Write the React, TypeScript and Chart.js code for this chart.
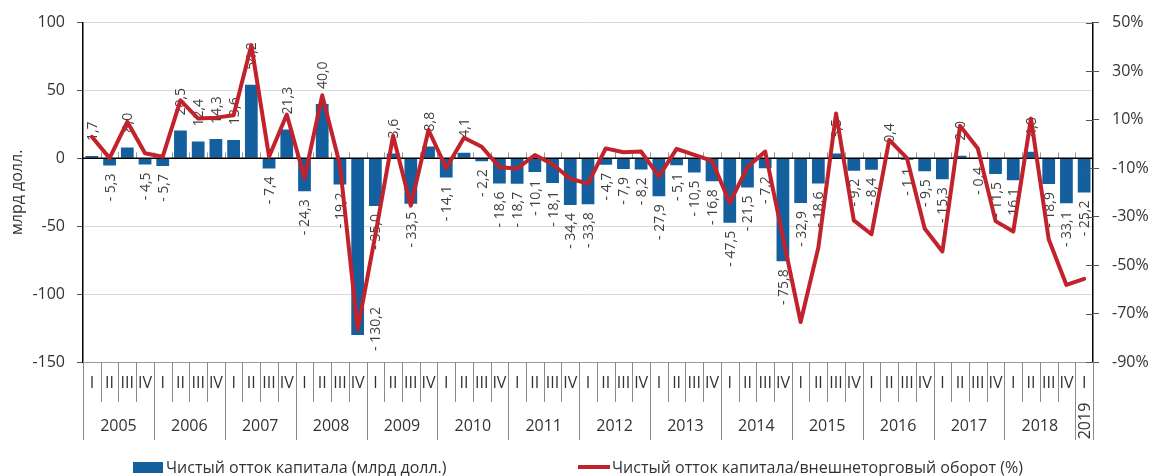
import React, { useEffect, useRef } from "react";
import { Chart, registerables } from "chart.js";

Chart.register(...registerables);

const FONT = "'Open Sans', 'Noto Sans', sans-serif";
const TEXT = "#333333";
const BAR_COLOR = "#14609F";
const LINE_COLOR = "#C1222B";

const quarterNames = ["I", "II", "III", "IV"];
const years = [
  "2005", "2006", "2007", "2008", "2009", "2010", "2011",
  "2012", "2013", "2014", "2015", "2016", "2017", "2018", "2019",
];

// Net capital outflow, bn USD (quarterly, 2005 Q1 – 2019 Q1)
const capitalOutflow = [
  1.7, -5.3, 8.0, -4.5,
  -5.7, 20.5, 12.4, 14.3,
  13.6, 54.2, -7.4, 21.3,
  -24.3, 40.0, -19.2, -130.2,
  -35.0, 3.6, -33.5, 8.8,
  -14.1, 4.1, -2.2, -18.6,
  -18.7, -10.1, -18.1, -34.4,
  -33.8, -4.7, -7.9, -8.2,
  -27.9, -5.1, -10.5, -16.8,
  -47.5, -21.5, -7.2, -75.8,
  -32.9, -18.6, 3.5, -9.2,
  -8.4, 0.4, -1.1, -9.5,
  -15.3, 2.0, -0.4, -11.5,
  -16.1, 4.8, -18.9, -33.1,
  -25.2,
];

// Net capital outflow / foreign trade turnover, %
const outflowToTrade = [
  2.9, -5.9, 9.1, -3.9,
  -5.3, 17.9, 10.4, 10.8,
  11.8, 40.7, -5.3, 12.1,
  -14.1, 20.0, -8.7, -76.5,
  -37.6, 3.3, -25.5, 5.7,
  -10.0, 2.5, -1.2, -9.6,
  -10.3, -4.6, -8.4, -14.4,
  -16.4, -1.9, -3.5, -3.2,
  -13.4, -2.1, -4.6, -7.0,
  -24.4, -9.6, -3.2, -38.5,
  -73.5, -42.8, 12.5, -31.6,
  -37.3, 1.6, -5.9, -34.9,
  -44.4, 7.4, -1.9, -31.9,
  -36.2, 10.4, -39.4, -58.2,
  -55.7,
];

const categories: string[] = capitalOutflow.map((_, i) => quarterNames[i % 4]);

const barLabel = "Чистый отток капитала (млрд долл.)";
const lineLabel = "Чистый отток капитала/внешнеторговый оборот (%)";
const leftTitle = "млрд долл.";

function fmt(v: number): string {
  const s = Math.abs(v).toFixed(1).replace(".", ",");
  return v < 0 ? "- " + s : s;
}

const overlayPlugin = {
  id: "overlay",
  beforeDatasetDraw(chart: any, args: any) {
    if (args.index !== 1) return;
    const ctx = chart.ctx;
    const a = chart.chartArea;
    const n = categories.length;
    const w = (a.right - a.left) / n;
    const y0 = chart.scales.y.getPixelForValue(0);
    ctx.save();
    // small ticks above zero line
    ctx.strokeStyle = "#9a9a9a";
    ctx.lineWidth = 1;
    for (let i = 1; i < n; i++) {
      const x = Math.round(a.left + i * w) + 0.5;
      ctx.beginPath();
      ctx.moveTo(x, y0 - 6);
      ctx.lineTo(x, y0);
      ctx.stroke();
    }
    // zero line
    ctx.strokeStyle = "#000";
    ctx.lineWidth = 1.5;
    ctx.beginPath();
    ctx.moveTo(a.left, y0);
    ctx.lineTo(a.right, y0);
    ctx.stroke();
    // bar value labels
    const meta = chart.getDatasetMeta(0);
    ctx.font = "14px " + FONT;
    ctx.fillStyle = "#404040";
    ctx.textBaseline = "middle";
    meta.data.forEach((bar: any, i: number) => {
      const v = capitalOutflow[i];
      let lx = bar.x + 1;
      let ly = v >= 0 ? bar.y - 15 : bar.y + 8;
      // the deepest bar's label does not fit below it: move it beside the bar
      if (ly + 50 > a.bottom && v < 0) {
        lx = bar.x + w + 1;
        ly = bar.y - 28;
      }
      ctx.save();
      ctx.translate(lx, ly);
      ctx.rotate(-Math.PI / 2);
      ctx.textAlign = v >= 0 ? "left" : "right";
      ctx.fillText(fmt(v), 0, 0);
      ctx.restore();
    });
    ctx.restore();
  },
  afterDraw(chart: any) {
    const ctx = chart.ctx;
    const a = chart.chartArea;
    const n = categories.length;
    const w = (a.right - a.left) / n;
    ctx.save();
    ctx.strokeStyle = "#8a8a8a";
    ctx.lineWidth = 1;
    for (let i = 0; i <= n; i++) {
      const x = Math.round(a.left + i * w) + 0.5;
      const isYear = i % 4 === 0 || i === n;
      ctx.beginPath();
      ctx.moveTo(x, a.bottom);
      ctx.lineTo(x, a.bottom + (isYear ? 78 : 40));
      ctx.stroke();
    }
    // right axis inner ticks
    const r = chart.scales.y1;
    ctx.strokeStyle = "#555";
    r.ticks.forEach((t: any) => {
      const y = Math.round(r.getPixelForValue(t.value)) + 0.5;
      ctx.beginPath();
      ctx.moveTo(a.right - 7, y);
      ctx.lineTo(a.right, y);
      ctx.stroke();
    });
    // year labels
    ctx.font = "16px " + FONT;
    ctx.fillStyle = TEXT;
    ctx.textAlign = "center";
    ctx.textBaseline = "middle";
    years.forEach((yr, k) => {
      const first = k * 4;
      const last = Math.min(first + 3, n - 1);
      const cnt = last - first + 1;
      const cx = a.left + (first + cnt / 2) * w;
      if (cnt >= 4) {
        ctx.fillText(yr, cx, a.bottom + 64);
      } else {
        ctx.save();
        ctx.translate(cx + 1, a.bottom + 59);
        ctx.rotate(-Math.PI / 2);
        ctx.fillText(yr, 0, 0);
        ctx.restore();
      }
    });
    ctx.restore();
  },
};

export default function App() {
  const ref = useRef<HTMLCanvasElement | null>(null);

  useEffect(() => {
    document.body.style.margin = "0";
    const canvas = ref.current;
    if (!canvas) return;
    const chart = new Chart(canvas, {
      type: "bar",
      data: {
        labels: categories,
        datasets: [
          {
            type: "bar",
            label: barLabel,
            data: capitalOutflow,
            backgroundColor: BAR_COLOR,
            barPercentage: 0.72,
            categoryPercentage: 1.0,
            yAxisID: "y",
            order: 2,
          } as any,
          {
            type: "line",
            label: lineLabel,
            data: outflowToTrade,
            borderColor: LINE_COLOR,
            backgroundColor: LINE_COLOR,
            borderWidth: 4,
            borderJoinStyle: "round",
            borderCapStyle: "round",
            pointRadius: 0,
            tension: 0,
            yAxisID: "y1",
            order: 1,
          } as any,
        ],
      },
      options: {
        responsive: false,
        animation: false,
        devicePixelRatio: 1,
        layout: { padding: { top: 20, left: 0, right: 0, bottom: 0 } },
        plugins: {
          legend: { display: false },
          tooltip: { enabled: false },
        },
        scales: {
          x: {
            type: "category",
            offset: true,
            grid: { display: false, drawTicks: false },
            border: { display: true, color: "#999", width: 1 },
            ticks: {
              autoSkip: false,
              maxRotation: 0,
              minRotation: 0,
              padding: 12,
              color: TEXT,
              font: { size: 16, family: FONT },
            },
            afterFit: (s: any) => {
              s.height = 114;
            },
          },
          y: {
            type: "linear",
            position: "left",
            min: -150,
            max: 100,
            ticks: {
              stepSize: 50,
              padding: 12,
              color: TEXT,
              font: { size: 16, family: FONT },
            },
            grid: { color: "#d9d9d9", tickColor: "#555", tickLength: 6, lineWidth: 1 },
            border: { color: "#000", width: 1.5 },
            title: {
              display: true,
              text: leftTitle,
              color: TEXT,
              font: { size: 16, family: FONT },
              padding: { top: 8, bottom: 0 },
            },
            afterFit: (s: any) => {
              s.width = 83;
            },
          },
          y1: {
            type: "linear",
            position: "right",
            min: -90,
            max: 50,
            ticks: {
              stepSize: 20,
              padding: 13,
              color: TEXT,
              font: { size: 16, family: FONT },
              callback: (v: any) => v + "%",
            },
            grid: { drawOnChartArea: false, tickLength: 6, color: "#555" },
            border: { color: "#000", width: 1.5 },
            afterFit: (s: any) => {
              s.width = 61;
            },
          },
        },
      } as any,
      plugins: [overlayPlugin as any],
    });
    return () => chart.destroy();
  }, []);

  const legendText: React.CSSProperties = {
    position: "absolute",
    top: 457,
    fontFamily: FONT,
    fontSize: 16,
    lineHeight: "20px",
    color: TEXT,
    whiteSpace: "nowrap",
  };

  return (
    <div style={{ position: "relative", width: 1154, height: 476, overflow: "hidden", background: "#fff" }}>
      <canvas ref={ref} width={1154} height={476} style={{ display: "block" }} />
      <div style={{ position: "absolute", left: 133, top: 462, width: 30, height: 11, background: BAR_COLOR }} />
      <div style={{ ...legendText, left: 166 }}>{barLabel}</div>
      <div style={{ position: "absolute", left: 578, top: 465, width: 32, height: 4, background: LINE_COLOR }} />
      <div style={{ ...legendText, left: 612 }}>{lineLabel}</div>
    </div>
  );
}
